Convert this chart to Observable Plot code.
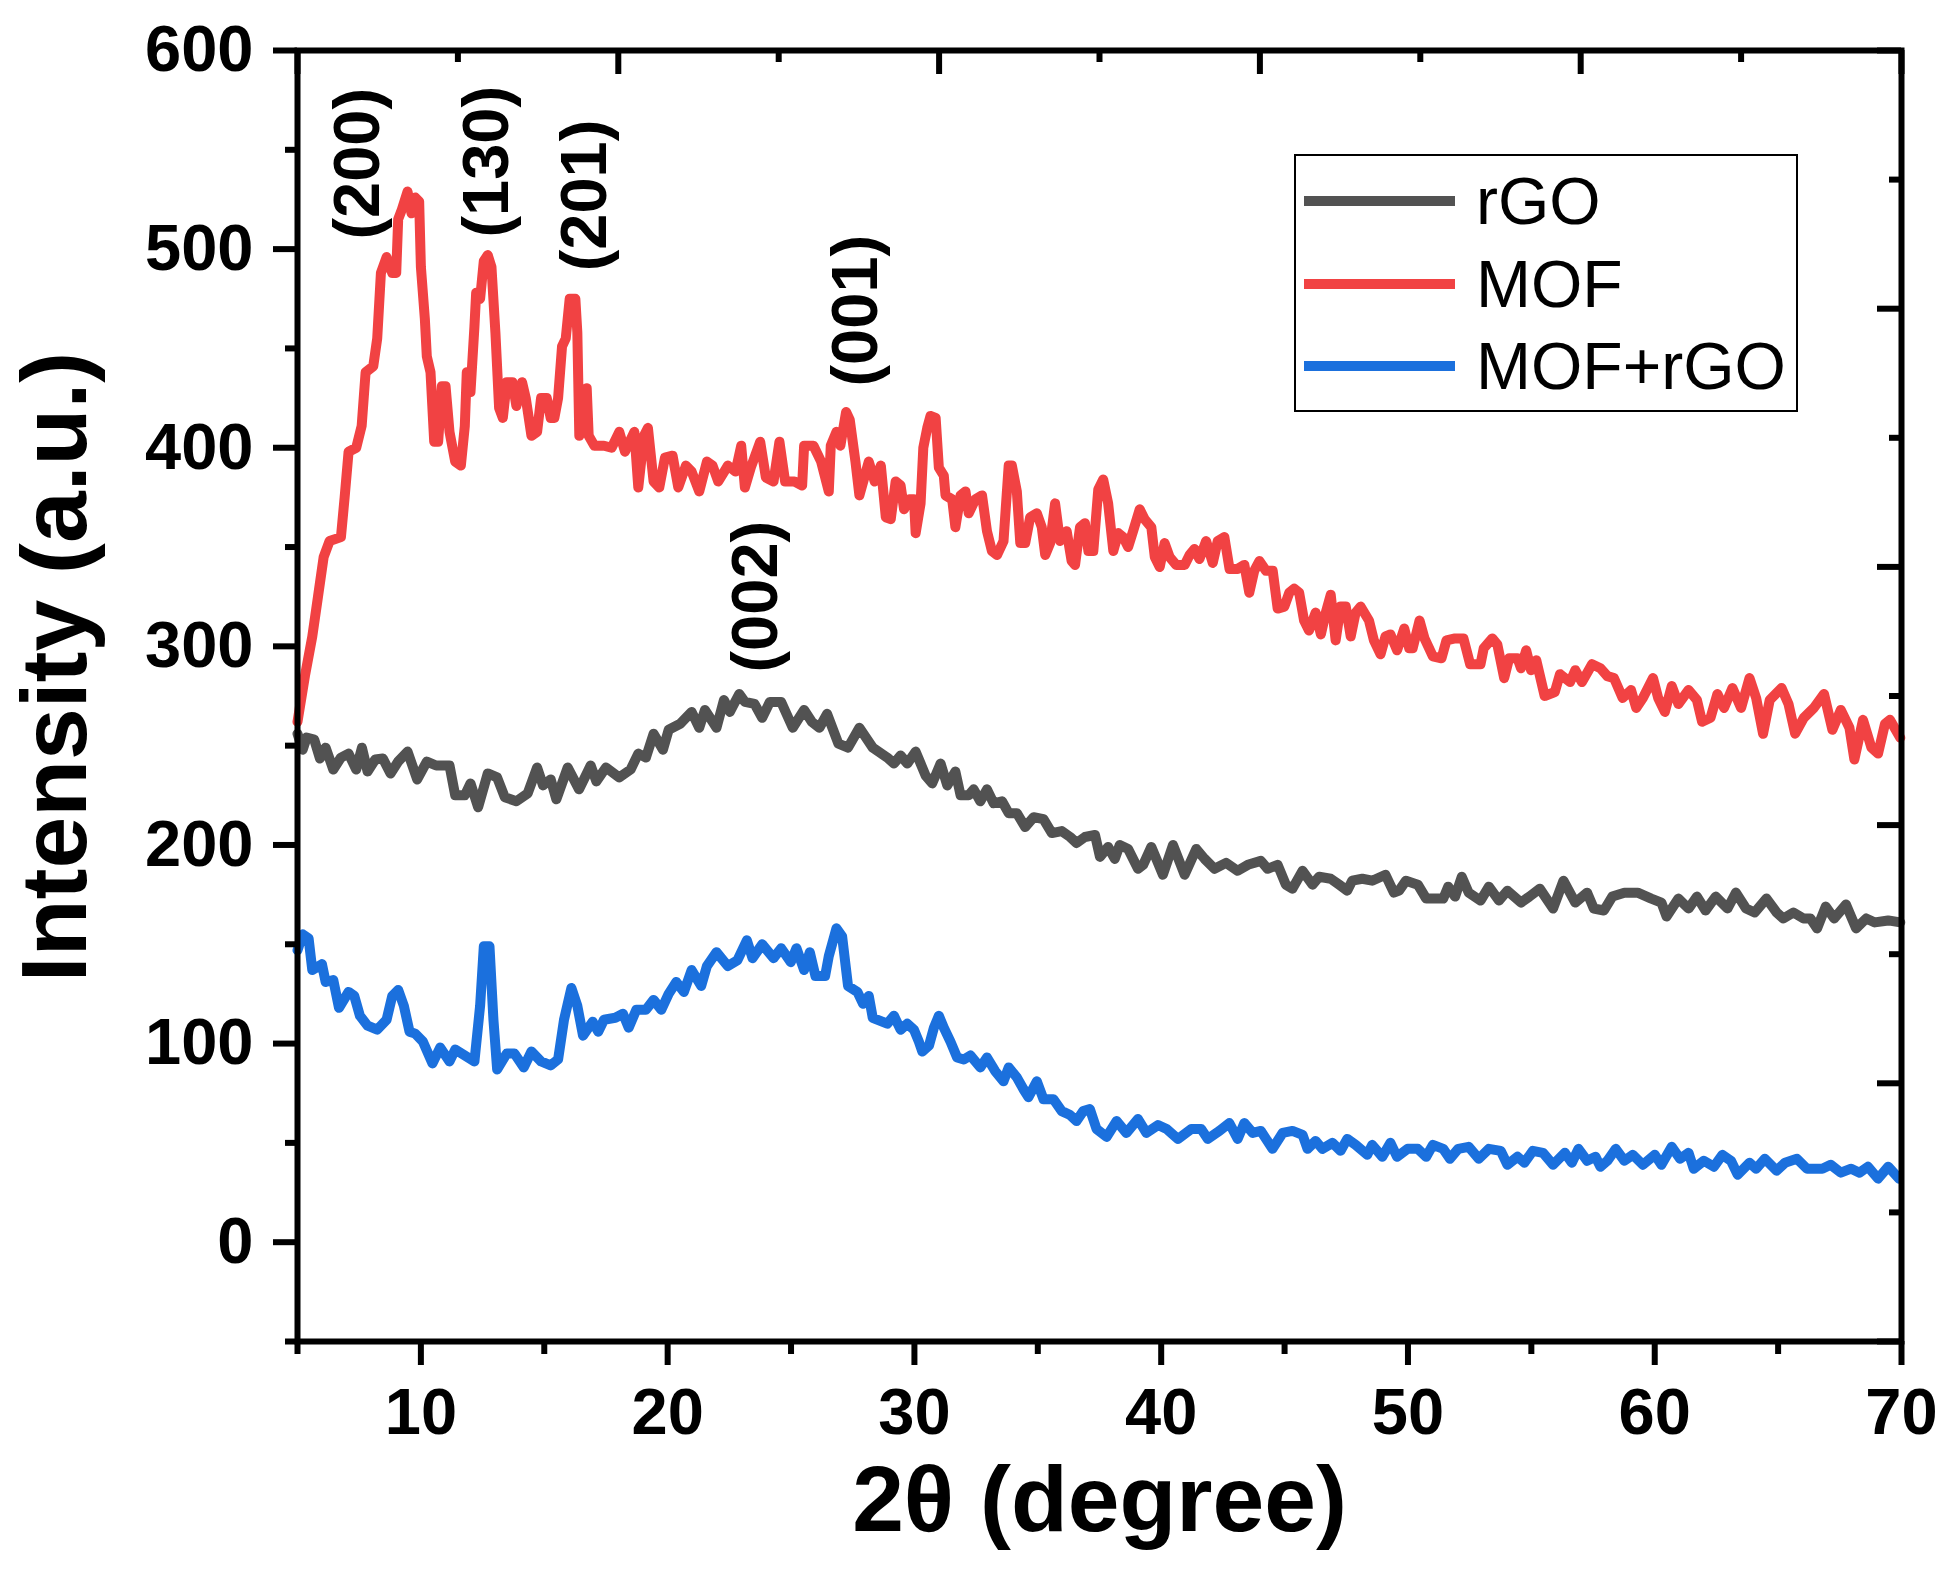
<!DOCTYPE html>
<html>
<head>
<meta charset="utf-8">
<script src="https://cdn.jsdelivr.net/npm/d3@7"></script>
<script src="https://cdn.jsdelivr.net/npm/@observablehq/plot@0.6"></script>
<style>
  body { margin: 0; background: white; }
  #wrap { position: relative; width: 1947px; height: 1595px; font-family: "Liberation Sans", Arial, sans-serif; }
  #legend { position: absolute; left: 1294px; top: 154px; width: 504px; height: 258px; box-sizing: border-box; border: 2.5px solid black; background: white; }
  .row { position: absolute; left: 0; height: 66px; }
  .swatch { position: absolute; left: 8px; width: 151px; height: 10px; top: 28px; }
  .name { position: absolute; left: 180px; top: 0; line-height: 66px; font-size: 66px; white-space: nowrap; }
</style>
</head>
<body>
<div id="wrap">
  <div id="chart1"></div>
  <div id="legend"></div>
</div>
<script>
// rGO
const rgoX = [5.0,5.21,5.37,5.68,5.91,6.14,6.45,6.76,7.07,7.38,7.61,7.84,8.15,8.46,8.77,9.08,9.46,9.85,10.24,10.62,11.16,11.39,11.78,12.01,12.32,12.71,13.09,13.4,13.87,14.33,14.71,14.95,15.26,15.49,15.95,16.41,16.88,17.11,17.5,18.04,18.5,18.81,19.12,19.43,19.81,20.04,20.51,20.97,21.28,21.51,21.98,22.28,22.52,22.9,23.13,23.52,23.83,24.14,24.6,25.07,25.53,25.84,26.15,26.46,26.92,27.31,27.77,28.31,
  28.9,29.17,29.44,29.71,30.05,30.25,30.45,30.72,31.06,31.33,31.66,31.87,32.2,32.4,32.67,32.94,33.21,33.55,33.82,34.15,34.49,34.83,35.23,35.57,35.97,36.31,36.57,36.91,37.32,37.52,37.85,38.12,38.32,38.66,39.06,39.27,39.6,40.07,40.48,40.95,41.42,41.76,42.16,42.63,43.1,43.51,44.04,44.31,44.72,45.05,45.32,45.73,46.13,46.4,46.87,47.21,47.54,47.74,48.15,48.55,49.09,49.43,
  49.64,49.92,50.4,50.74,51.08,51.43,51.63,51.91,52.18,52.46,52.94,53.28,53.69,54.03,54.58,54.92,55.34,55.88,56.3,56.78,57.26,57.53,57.94,58.28,58.77,59.31,59.86,60.27,60.48,60.96,61.37,61.71,62.06,62.47,62.95,63.29,63.7,64.05,64.53,64.94,65.21,65.62,66.03,66.31,66.58,66.93,67.27,67.75,68.16,68.57,68.92,69.46,69.95];
const rgoY = [256,248,254,253,243.5,249,238,244,246,238,249,237,243,243.5,236,242,247,233,242,240,240,225,225,231,219,236,234,224,222,226,239,230,233,223,239,228,240,232,239,234,238,246,244,256,248,258,261,267,259,268,259,273,267,276,272,271,264,272,272,259,268,262,259,266,251,249,259,249,
  244,241,245,241,247,241,235,231,241,230,237,225,225,228,222,228,221,222,216,216,209,214,213,206,207,204,201,204,205,194,199,193,200,198,188,190,199,185,200,185,198,193,188,191,187,190,192,188,190,180,178,187,180,184,183,180,177,182,183,182,185,176,
  177,182,180,173,173,173,179,174,184,176,172,179,172,177,171,174,178,168,182,171,176,168,167,174,176,176,173,171,164,173,168,174,167,174,168,176,168,166,173,166,163,166,163,163,158,169,163,170,158,163,161,162,161];

// MOF
const mofX = [5.0,5.3,5.6,5.83,6.06,6.3,6.76,6.91,7.07,7.38,7.6,7.76,8.07,8.23,8.38,8.61,8.84,9.0,9.08,9.23,9.46,9.62,9.77,9.93,10.0,10.16,10.24,10.39,10.54,10.7,10.85,11.0,11.16,11.39,11.62,11.78,11.86,12.01,12.17,12.24,12.4,12.55,12.71,12.86,13.02,13.17,13.32,13.48,13.71,13.87,14.1,14.25,14.48,14.71,14.87,15.1,15.26,15.41,15.56,15.72,15.87,16.03,16.26,16.34,16.42,16.57,16.72,16.8,17.03,17.42,17.73,18.04,18.27,18.65,18.81,19.04,19.2,19.43,19.66,19.89,20.2,20.43,20.74,20.97,21.28,21.59,21.82,22.05,22.44,22.75,22.98,23.13,23.37,23.75,23.98,24.29,24.53,24.76,25.14,25.45,25.53,25.91,26.22,26.53,26.61,26.84,27.0,27.23,27.38,27.61,27.77,28.15,28.39,
  28.64,28.84,29.04,29.24,29.44,29.58,29.78,29.98,30.05,30.25,30.36,30.52,30.65,30.86,30.99,31.19,31.26,31.53,31.66,31.87,32.07,32.2,32.47,32.74,32.94,33.14,33.35,33.61,33.82,33.95,34.15,34.29,34.49,34.69,34.96,35.16,35.3,35.5,35.7,35.9,36.17,36.37,36.51,36.71,36.91,37.05,37.25,37.45,37.65,37.85,38.06,38.26,38.46,38.66,38.86,39.13,39.33,39.6,39.74,39.94,40.14,40.34,40.61,40.95,41.15,41.35,41.55,41.82,42.09,42.29,42.56,42.77,43.1,43.37,43.57,43.77,43.98,44.25,44.52,44.72,44.99,45.19,45.39,45.59,45.79,45.99,46.26,46.47,46.67,46.87,47.07,47.27,47.48,47.68,47.88,48.08,48.42,48.62,48.89,49.09,49.29,49.56,
  49.85,50.05,50.19,50.47,50.67,51.01,51.36,51.56,51.91,52.25,52.52,52.94,53.07,53.42,53.62,53.9,54.1,54.44,54.58,54.79,54.99,55.2,55.54,55.95,56.16,56.57,56.78,57.05,57.46,57.8,58.08,58.35,58.7,59.04,59.25,59.52,59.93,60.14,60.41,60.69,60.96,61.37,61.71,61.92,62.26,62.54,62.81,63.15,63.5,63.84,64.11,64.39,64.66,65.14,65.42,65.69,66.04,66.45,66.86,67.2,67.54,67.89,68.09,68.44,68.78,69.05,69.33,69.53,69.95];
const mofY = [262,285,305,325,345,353,355,375,398,400,411,438,441,455,488,496,488,488,515,520,529,518,526,524,491,465,446,438,403,403,431,431,408,393,391,411,438,428,461,478,475,494,497,491,458,420,415,433,433,421,433,425,406,408,425,425,415,415,425,451,455,475,475,458,406,411,430,406,401,401,400,408,398,408,380,406,410,383,380,395,396,380,391,388,378,393,391,383,391,388,401,380,390,403,385,383,403,383,383,381,401,401,393,378,401,408,401,418,414,393,376,393,383,
  391,365,364,383,381,369,374,374,357,372,400,410,416,415,390,386,376,374,360,376,378,367,374,376,358,348,346,353,391,391,378,352,352,365,367,360,346,352,372,353,358,343,341,360,362,348,348,379,384,372,348,357,355,350,358,369,364,360,345,340,352,345,341,341,346,349,344,353,342,353,355,339,339,341,327,338,343,338,338,319,320,327,329,327,313,308,317,306,317,326,303,320,320,305,317,320,313,303,296,305,306,298,
  309,299,299,313,304,295,294,303,304,304,291,291,299,304,301,284,294,294,289,298,288,293,275,277,286,282,288,282,291,289,285,284,274,278,269,274,284,274,267,280,271,278,273,262,264,276,269,279,269,284,274,256,273,279,271,256,264,269,276,258,268,259,243,263,249,246,261,263,254];

// MOF+rGO
const hybX = [5.0,5.21,5.45,5.6,5.99,6.14,6.45,6.68,7.07,7.3,7.53,7.84,8.23,8.61,8.84,9.08,9.31,9.54,9.77,10.08,10.47,10.78,11.16,11.39,11.78,12.17,12.4,12.55,12.78,12.94,13.09,13.48,13.79,14.17,14.48,14.87,15.26,15.56,15.8,16.1,16.34,16.57,16.96,17.19,17.42,17.88,18.19,18.42,18.73,19.12,19.43,19.74,20.04,20.35,20.66,20.97,21.36,21.59,21.98,22.44,22.83,23.21,23.44,23.83,24.29,24.6,24.99,25.22,25.53,25.76,25.99,26.38,26.53,26.84,27.07,27.31,27.69,27.92,28.15,28.31,
  28.9,29.17,29.44,29.71,29.98,30.18,30.32,30.59,30.79,30.99,31.19,31.46,31.73,32.0,32.27,32.67,32.94,33.28,33.61,33.82,34.15,34.42,34.62,34.96,35.23,35.63,35.97,36.31,36.57,36.84,37.11,37.38,37.79,38.19,38.59,39.06,39.4,39.87,40.22,40.68,41.22,41.62,41.89,42.36,42.76,43.1,43.37,43.71,44.04,44.51,44.92,45.32,45.73,45.93,46.26,46.53,46.94,47.27,47.54,47.88,48.35,48.55,48.96,49.29,49.56,
  49.99,50.4,50.74,51.01,51.43,51.7,52.04,52.46,52.87,53.28,53.76,54.03,54.44,54.72,55.06,55.47,55.88,56.36,56.64,56.91,57.26,57.6,57.8,58.08,58.42,58.77,59.11,59.52,60.0,60.27,60.69,61.03,61.37,61.58,61.99,62.4,62.74,63.09,63.36,63.84,64.11,64.46,64.94,65.28,65.76,66.17,66.79,67.13,67.54,67.96,68.3,68.64,69.05,69.46,69.9];
const hybY = [147,155,153,137,140,131,132,118,126,124,114,109,107,112,124,127,119,106,105,101,90,98,91,97,94,91,119,149,149,112,87,95,95,88,96,91,89,92,112,128,119,104,111,106,112,113,115,108,117,117,122,117,125,131,126,137,129,139,146,139,142,152,143,150,143,148,141,148,137,146,134,134,144,158,154,129,126,120,124,113,
  110,114,107,110,107,101,96,99,108,114,108,101,93,92,94,88,93,86,81,88,83,77,73,81,72,72,66,64,61,66,67,57,53,61,55,62,55,59,57,52,57,57,52,56,60,52,60,55,56,47,55,56,54,47,51,47,50,46,52,49,44,49,43,50,43,
  47,47,43,49,47,42,47,48,42,47,46,39,43,40,46,45,39,45,40,47,41,43,38,41,47,41,44,39,44,39,48,42,45,37,41,38,44,41,34,40,37,42,36,40,42,37,37,39,35,37,35,38,32,38,32];

const seriesNames = ["rGO", "MOF", "MOF+rGO"];
const seriesColors = {"rGO": "#525252", "MOF": "#F14243", "MOF+rGO": "#1B70DD"};

const peakLabels = ["(200)", "(130)", "(201)", "(001)", "(002)"];
const peakX = [7.47, 12.7, 16.66, 27.64, 23.59];
const peakY = [543, 544, 527, 469, 325];

const xMajor = [10, 20, 30, 40, 50, 60, 70];
const xMinor = [5, 15, 25, 35, 45, 55, 65];
const yMajor = [0, 100, 200, 300, 400, 500, 600];
const yMinor = [-50, 50, 150, 250, 350, 450, 550];
const topMajor = [5, 18, 31, 44, 57, 70];
const topMinor = [11.5, 24.5, 37.5, 50.5, 63.5];
const rightMajor = [-50, 80, 210, 340, 470, 600];
const rightMinor = [15, 145, 275, 405, 535];

const rows = [];
[[rgoX, rgoY, "rGO"], [mofX, mofY, "MOF"], [hybX, hybY, "MOF+rGO"]].forEach(([xs, ys, name]) => {
  xs.forEach((x, i) => rows.push({name, x, y: ys[i]}));
});
const peaks = peakLabels.map((t, i) => ({t, x: peakX[i], y: peakY[i]}));

const W = 1947, H = 1595;
const mL = 297, mR = 46, mT = 50, mB = 254;
const innerW = W - mL - mR, innerH = H - mT - mB;

let chart1 = Plot.plot({
  width: W,
  height: H,
  marginLeft: mL,
  marginRight: mR,
  marginTop: mT,
  marginBottom: mB,
  style: {
    fontFamily: "'Liberation Sans', Arial, sans-serif",
    fontWeight: "bold",
    background: "white",
    color: "black"
  },
  x: {domain: [5, 70], label: null},
  y: {domain: [-50, 600], label: null},
  marks: [
    Plot.line(rows.filter(d => d.name == "MOF"), {x: "x", y: "y", stroke: seriesColors["MOF"], strokeWidth: 10, strokeLinejoin: "round"}),
    Plot.line(rows.filter(d => d.name == "rGO"), {x: "x", y: "y", stroke: seriesColors["rGO"], strokeWidth: 10, strokeLinejoin: "round"}),
    Plot.line(rows.filter(d => d.name == "MOF+rGO"), {x: "x", y: "y", stroke: seriesColors["MOF+rGO"], strokeWidth: 10, strokeLinejoin: "round"}),
    Plot.text(peaks, {x: "x", y: "y", text: "t", rotate: -90, fontSize: 65, fontWeight: "bold", fill: "black"}),
    // outward ticks, bottom and left
    Plot.axisX(xMajor, {anchor: "bottom", tickSize: 24, tickPadding: 22, fontSize: 65, fontWeight: "bold", strokeWidth: 6, label: null}),
    Plot.axisX(xMinor, {anchor: "bottom", tickSize: 13, tickFormat: () => "", strokeWidth: 6, label: null}),
    Plot.axisY(yMajor, {anchor: "left", tickSize: 24, tickPadding: 20, fontSize: 65, fontWeight: "bold", strokeWidth: 6, label: null}),
    Plot.axisY(yMinor, {anchor: "left", tickSize: 12, tickFormat: () => "", strokeWidth: 6, label: null}),
    // inward ticks, top and right
    Plot.tickX(topMajor, {x: d => d, insetBottom: innerH - 24, strokeWidth: 6}),
    Plot.tickX(topMinor, {x: d => d, insetBottom: innerH - 12, strokeWidth: 6}),
    Plot.tickY(rightMajor, {y: d => d, insetLeft: innerW - 24, strokeWidth: 6}),
    Plot.tickY(rightMinor, {y: d => d, insetLeft: innerW - 12, strokeWidth: 6}),
    Plot.frame({stroke: "black", strokeWidth: 6}),
    Plot.text(["2θ (degree)"], {frameAnchor: "bottom", lineAnchor: "middle", textAnchor: "middle", dy: 160, text: d => d, fontSize: 93, fontWeight: "bold"}),
    Plot.text(["Intensity (a.u.)"], {frameAnchor: "left", lineAnchor: "middle", textAnchor: "middle", dx: -241, dy: -29, rotate: -90, text: d => d, fontSize: 93, fontWeight: "bold"})
  ]
});

d3.select("#chart1").append(() => chart1);

// legend box drawn over the plot area
const legend = d3.select("#legend");
const rowCenters = [45, 128, 210];
seriesNames.forEach((name, i) => {
  const r = legend.append("div").attr("class", "row").style("top", (rowCenters[i] - 33) + "px").style("width", "100%");
  r.append("div").attr("class", "swatch").style("background", seriesColors[name]);
  r.append("div").attr("class", "name").text(name);
});
</script>
</body>
</html>
